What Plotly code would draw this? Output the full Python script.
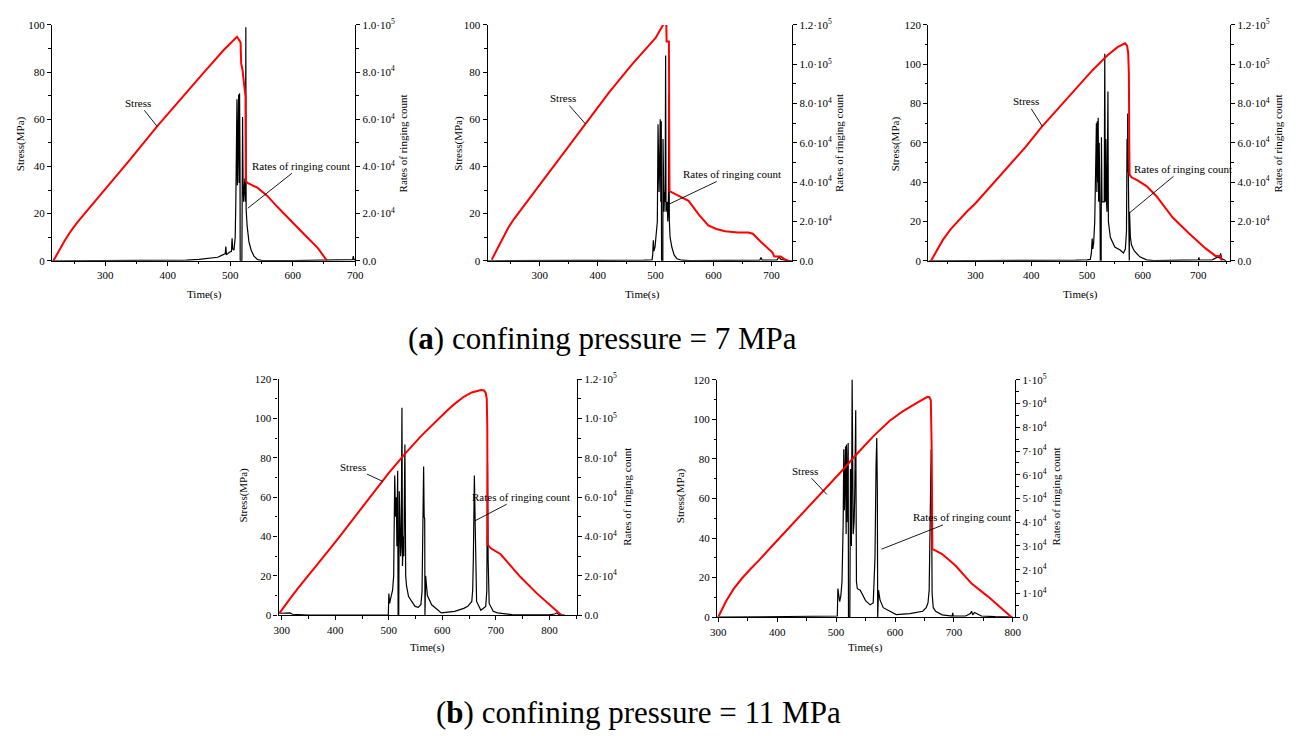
import plotly.graph_objects as go

W, H = 1301, 736
FONT = "Liberation Serif"

# ---------------- data ----------------
# (a) panel 1
a1_stress_t = [217, 225, 235, 245, 255, 270, 285, 300, 340, 383, 420, 460, 490, 500, 506, 510.8, 515, 516.6, 517.6, 519.7,
               522.9, 524.5, 525, 527.7, 543.5, 559.4, 575, 600, 617.5, 640, 655]
a1_stress_v = [0, 4, 8.5, 12.6, 16.2, 21, 25.7, 30.2, 43, 57, 68.5, 80.5, 89.5, 92.3, 94, 95, 93.3, 92.6, 83.6, 80.9,
               73.2, 69.8, 33.7, 33, 31, 27.5, 23, 16, 11.5, 5.5, 0]
a1_ring_t = [215, 300, 400, 430, 450, 470, 480, 488, 492, 493, 494, 498, 502, 503, 504, 506, 507, 508, 509, 510,
             510.8, 511.5, 512.5, 513.5, 514.2, 515, 515.7, 516, 518.7, 519, 519.8, 520.5, 521.5, 522.5, 523.5, 524.5, 525, 525.5, 527, 530,
             533.6, 538, 544, 550, 600, 690, 696, 697, 698, 700]
a1_ring_v = [0, 0, 100, 300, 600, 1000, 1500, 2500, 3000, 6000, 2500, 3500, 4000, 9500, 5000, 4500, 7000, 10000, 25000, 40000,
             68500, 32000, 55000, 70500, 33000, 71000, 40000, 0, 0, 50000, 61000, 35000, 25000, 30000, 35000, 25000, 99000, 22000, 15000, 8000,
             4500, 2000, 500, 200, 100, 200, 500, 2000, 600, 300]

# (a) panel 2
a2_stress_t = [217, 225, 235, 245, 255, 270, 285, 300, 340, 379, 420, 460, 500, 514, 518.5, 519, 523, 524, 528.7, 540,
               557, 575, 591, 605, 620, 642, 660, 668, 682, 702, 705, 711, 716, 722, 730]
a2_stress_v = [0.5, 4.5, 9.5, 13.8, 17.6, 22.6, 27.6, 32.3, 45.3, 58, 71.5, 83.5, 94.5, 100.5, 100.5, 93, 93, 29.5, 29, 27.5,
               25.4, 19.5, 15, 13.5, 12.5, 12, 12, 11.5, 8, 3.5, 1.8, 1.8, 1.8, 0.8, 0]
a2_ring_t = [210, 300, 400, 480, 494, 495, 496, 497, 499, 501, 503, 504.2, 505, 506, 507, 508, 509, 509.8, 510.3, 512.5,
             512.8, 513.5, 514.5, 515.5, 516.5, 517.3, 518, 520, 521, 522, 523, 523.8, 525, 528, 532, 537, 545, 560, 650, 680,
             682, 684, 710, 713, 716, 720, 725, 736]
a2_ring_v = [0, 0, 200, 300, 500, 3000, 10500, 5000, 7000, 12000, 20000, 69500, 40000, 35000, 50000, 72000, 30000, 71000, 0, 0,
             62000, 40000, 25000, 35000, 30000, 104500, 25000, 30000, 20000, 25000, 85000, 20000, 12000, 7000, 3000, 1000, 300, 100, 100, 300,
             1700, 300, 500, 2000, 800, 400, 200, 0]

# (a) panel 3
a3_stress_t = [220, 230, 241, 255, 270, 285, 300, 330, 359, 390, 418, 450, 477, 510, 536, 555, 568.4, 572, 574, 575.3,
               576, 576.5, 580, 590, 607, 624.5, 654, 683, 713, 730.7, 739.5, 742]
a3_stress_v = [0, 5, 10.5, 16, 20.8, 25.2, 29.3, 38.8, 48, 58, 67.9, 78, 86.7, 97, 104.3, 108.7, 110.7, 109.5, 106, 95,
               60, 44, 42.5, 41, 38, 33, 22, 14, 6.3, 2.5, 2.5, 0]
a3_ring_t = [216, 300, 400, 480, 500, 506, 508, 509.4, 510.5, 512, 514, 515.5, 517, 517.8, 518.5, 519.5, 520.2, 521, 522, 523.5,
             524, 525.5, 526, 526.5, 527, 531, 532, 533, 534, 535, 536, 537.7, 538.5, 542, 550, 559.6, 565.5, 569, 571, 572,
             572.6, 573.2, 574, 575, 576, 576.5, 578, 580, 585, 595, 607, 620, 690, 700, 701, 702, 725, 735, 738, 740,
             742, 745, 750]
a3_ring_v = [0, 0, 100, 300, 500, 700, 4000, 11300, 6000, 9000, 20000, 50000, 70000, 35000, 71000, 40000, 72800, 30000, 60000, 25000,
             0, 0, 62900, 40000, 30000, 30000, 105400, 30000, 62000, 30000, 25000, 86200, 20000, 12000, 7000, 5500, 4000, 6000, 15000, 62000,
             45000, 75000, 35000, 20000, 0, 25000, 12000, 8000, 5000, 2000, 500, 100, 200, 500, 1700, 400, 500, 2000, 1500, 3800,
             1000, 500, 0]

# (b) panel 4
b1_stress_t = [296, 305, 315.4, 330, 346, 377, 408, 438, 470, 500, 530, 561, 592, 610, 623, 640, 655, 665, 672, 678,
               681, 683, 684, 684.4, 690.5, 709, 727, 746, 776.6, 807, 822.7]
b1_stress_v = [1.2, 4.8, 8.4, 13.6, 18.8, 29.4, 40, 50.8, 61.8, 72.3, 82, 91.3, 99.8, 104.3, 107.4, 111, 113.2, 114.2, 114.5, 114.2,
               113, 110, 95, 36, 34, 31, 25.3, 19.4, 11.1, 3.7, 0]
b1_ring_t = [294, 300, 315, 320, 330, 350, 400, 499, 500, 501.5, 503, 505, 507, 509, 510, 511, 512.5, 514, 515, 516.5,
             517.3, 518.5, 519.5, 520.5, 522, 523, 524.5, 525.5, 527, 528, 530, 531.5, 533, 536.8, 545, 549, 555, 560, 562, 563,
             565, 566, 567, 567.5, 568.8, 572, 580, 598, 623, 640, 647.5, 655, 656.7, 658, 659.8, 661.6, 664, 672, 681, 683,
             684.4, 685.6, 687.5, 695, 703, 730, 760, 800, 810, 813.5, 818, 830]
b1_ring_v = [1200, 1000, 1200, 500, 300, 0, 0, 0, 11000, 6000, 8000, 10000, 12800, 20000, 45000, 71000, 50000, 60000, 35000, 73400,
             0, 0, 63000, 45000, 30000, 35000, 105500, 25000, 40000, 30000, 86800, 20000, 15000, 9500, 6000, 4500, 4000, 5500, 12000, 29000,
             75600, 50000, 49000, 0, 20000, 10000, 5300, 1200, 2000, 3500, 4500, 7000, 12800, 30000, 71000, 42700, 7000, 2500, 4500, 12000,
             77600, 28000, 6000, 2000, 1200, 300, 100, 200, 600, 1200, 300, 0]

# (b) panel 5
b2_stress_t = [300.5, 306, 312.8, 326, 340.6, 355, 368.5, 396, 424, 452, 480, 508, 535.5, 563, 591, 613, 635, 645, 650, 655,
               658.5, 660.8, 662.3, 663.4, 669, 680, 702.6, 730, 758, 786, 798]
b2_stress_v = [0.5, 4.2, 7.9, 14.3, 19.8, 24.5, 28.6, 37.5, 46.5, 55.4, 64.2, 73.4, 82.6, 91.4, 99.3, 104, 108, 109.8, 110.7, 111.4,
               111.2, 109.6, 84.8, 34.4, 33.6, 31.9, 26.1, 17, 10.4, 3, 0]
b2_ring_t = [298, 400, 500, 502, 503, 504.5, 506, 508, 510, 512, 513, 514, 515, 516, 517, 517.7, 518.5, 519.5, 520.5, 521,
             523.3, 524.4, 525.2, 526, 527.2, 527.8, 529, 530.5, 531.5, 533.3, 534.5, 536, 541, 550, 557.8, 563, 566, 567.8,
             569, 570, 570.6, 572, 574.5, 580, 591, 602, 625, 647, 653, 656, 658, 659.5, 660.5, 661.4, 662.3, 663, 665, 669,
             680, 697, 698, 699, 720, 728, 730, 732, 735, 746.7, 770, 800]
b2_ring_v = [0, 200, 300, 500, 12100, 8000, 6600, 9000, 15000, 40000, 70700, 45000, 55000, 72000, 35000, 72700, 40000, 60000, 73400, 0,
             0, 62400, 40000, 30000, 100500, 40000, 35000, 40000, 50000, 87200, 15000, 12000, 11400, 7000, 5200, 6000, 25200, 63800,
             75500, 52800, 0, 11400, 7300, 4000, 2500, 1100, 1500, 2500, 4000, 6000, 11400, 50000, 62000, 70700, 40000, 10000, 4000, 2500,
             1000, 500, 1800, 500, 500, 1500, 2500, 1000, 2000, 500, 200, 0]

# tick labels of the right-hand axes
ring_ticks_1e5 = [0, 20000, 40000, 60000, 80000, 100000]
ring_text_1e5 = ["0.0", "2.0·10<sup>4</sup>", "4.0·10<sup>4</sup>", "6.0·10<sup>4</sup>", "8.0·10<sup>4</sup>", "1.0·10<sup>5</sup>"]
ring_ticks_12e4 = [0, 20000, 40000, 60000, 80000, 100000, 120000]
ring_text_12e4 = ["0.0", "2.0·10<sup>4</sup>", "4.0·10<sup>4</sup>", "6.0·10<sup>4</sup>", "8.0·10<sup>4</sup>",
                  "1.0·10<sup>5</sup>", "1.2·10<sup>5</sup>"]
ring_ticks_b2 = [0, 10000, 20000, 30000, 40000, 50000, 60000, 70000, 80000, 90000, 100000]
ring_text_b2 = ["0", "1·10<sup>4</sup>", "2·10<sup>4</sup>", "3·10<sup>4</sup>", "4·10<sup>4</sup>", "5·10<sup>4</sup>",
                "6·10<sup>4</sup>", "7·10<sup>4</sup>", "8·10<sup>4</sup>", "9·10<sup>4</sup>", "1·10<sup>5</sup>"]

caption_a = "(<b>a</b>) confining pressure = 7 MPa"
caption_b = "(<b>b</b>) confining pressure = 11 MPa"

for t, v in [(a1_stress_t, a1_stress_v), (a1_ring_t, a1_ring_v), (a2_stress_t, a2_stress_v), (a2_ring_t, a2_ring_v),
             (a3_stress_t, a3_stress_v), (a3_ring_t, a3_ring_v), (b1_stress_t, b1_stress_v), (b1_ring_t, b1_ring_v),
             (b2_stress_t, b2_stress_v), (b2_ring_t, b2_ring_v)]:
    assert len(t) == len(v), (len(t), len(v))

# ---------------- layout configuration ----------------
panels = [
    dict(st=(a1_stress_t, a1_stress_v), rg=(a1_ring_t, a1_ring_v), px=(45.7, 352.5), py=(17.3, 257.7),
         xr=[215, 700], sr=[0, 100], rr=[0, 100000], rtv=ring_ticks_1e5, rtt=ring_text_1e5, rminor=10000,
         stress_lbl=(353, 67, 383, 57), ring_lbl=(614, 40.3, 528.2, 22.3),
         ltitle=(14, 138), rtitle=(401, 138), ttitle=(200, 292)),
    dict(st=(a2_stress_t, a2_stress_v), rg=(a2_ring_t, a2_ring_v), px=(486.7, 795), py=(17.3, 257.7),
         xr=[210, 736], sr=[0, 100], rr=[0, 120000], rtv=ring_ticks_12e4, rtt=ring_text_12e4, rminor=10000,
         stress_lbl=(339.8, 69, 379, 58), ring_lbl=(632.8, 36.8, 523, 24),
         ltitle=(457, 138), rtitle=(843, 138), ttitle=(643, 292)),
    dict(st=(a3_stress_t, a3_stress_v), rg=(a3_ring_t, a3_ring_v), px=(932.7, 1238.3), py=(17.3, 257.7),
         xr=[215, 757], sr=[0, 120], rr=[0, 120000], rtv=ring_ticks_12e4, rtt=ring_text_12e4, rminor=10000,
         stress_lbl=(391.4, 81.2, 419.8, 68.5), ring_lbl=(671.7, 46.8, 577.3, 24.6),
         ltitle=(899, 138), rtitle=(1287, 138), ttitle=(1087, 292)),
    dict(st=(b1_stress_t, b1_stress_v), rg=(b1_ring_t, b1_ring_v), px=(275, 577.3), py=(378.3, 619),
         xr=[294, 852], sr=[0, 120], rr=[0, 120000], rtv=ring_ticks_12e4, rtt=ring_text_12e4, rminor=10000,
         stress_lbl=(432.2, 75.1, 488.8, 68), ring_lbl=(747, 60.2, 661, 48),
         ltitle=(239, 497), rtitle=(627, 498), ttitle=(426, 652)),
    dict(st=(b2_stress_t, b2_stress_v), rg=(b2_ring_t, b2_ring_v), px=(719, 1020.7), py=(379, 621),
         xr=[298, 804], sr=[0, 120], rr=[0, 100000], rtv=ring_ticks_b2, rtt=ring_text_b2, rminor=5000,
         stress_lbl=(446.4, 74, 484.3, 62), ring_lbl=(713.7, 50.4, 577.3, 34.4),
         ltitle=(682, 497), rtitle=(1062, 498), ttitle=(869, 652)),
]

fig = go.Figure()
layout = dict(width=W, height=H, autosize=False, margin=dict(l=0, r=0, t=0, b=0),
              paper_bgcolor="white", plot_bgcolor="white", showlegend=False,
              font=dict(family=FONT, size=11, color="black"))
annotations = []
tickfont = dict(family=FONT, size=11, color="black")
axis_common = dict(showgrid=False, zeroline=False, showline=True, linecolor="black", linewidth=1.3,
                   ticks="outside", ticklen=4, tickwidth=1, tickcolor="black", tickfont=tickfont)

for i, p in enumerate(panels, start=1):
    xa = "x" if i == 1 else f"x{i}"
    ring_ax = "y" if i == 1 else f"y{i}"
    st_ax = f"y{i + 5}"
    xkey = "xaxis" if i == 1 else f"xaxis{i}"
    rkey = "yaxis" if i == 1 else f"yaxis{i}"
    skey = f"yaxis{i + 5}"
    x0, x1 = p["px"]
    y0, y1 = p["py"]
    layout[xkey] = dict(axis_common, domain=[x0 / W, x1 / W], range=p["xr"], anchor=ring_ax,
                        dtick=100, tick0=0, minor=dict(dtick=50, ticks="outside", ticklen=2.5, tickcolor="black"))
    layout[rkey] = dict(axis_common, domain=[1 - y1 / H, 1 - y0 / H], range=p["rr"], anchor=xa, side="right",
                        tickmode="array", tickvals=p["rtv"], ticktext=p["rtt"],
                        minor=dict(dtick=p["rminor"], tick0=0, ticks="outside", ticklen=2.5, tickcolor="black"))
    layout[skey] = dict(axis_common, overlaying=ring_ax, anchor=xa, side="left", range=p["sr"],
                        dtick=20, tick0=0, minor=dict(dtick=10, ticks="outside", ticklen=2.5, tickcolor="black"))

    fig.add_trace(go.Scatter(x=p["rg"][0], y=p["rg"][1], mode="lines", line=dict(color="black", width=1.2),
                             xaxis=xa, yaxis=ring_ax, hoverinfo="skip"))
    fig.add_trace(go.Scatter(x=p["st"][0], y=p["st"][1], mode="lines", line=dict(color="#ff0000", width=2),
                             xaxis=xa, yaxis=st_ax, hoverinfo="skip"))

    sx, sy, sax, say = p["stress_lbl"]
    annotations.append(dict(x=sax, y=say, ax=sx, ay=sy, xref=xa, yref=st_ax, axref=xa, ayref=st_ax,
                            text="Stress", showarrow=True, arrowhead=0, arrowwidth=0.9, arrowcolor="black",
                            font=dict(family=FONT, size=11, color="black"), standoff=0))
    rx, ry, rax, ray = p["ring_lbl"]
    annotations.append(dict(x=rax, y=ray, ax=rx, ay=ry, xref=xa, yref=st_ax, axref=xa, ayref=st_ax,
                            text="Rates of ringing count", showarrow=True, arrowhead=0, arrowwidth=0.9,
                            arrowcolor="black", font=dict(family=FONT, size=11, color="black"), standoff=0))
    lx, ly = p["ltitle"]
    annotations.append(dict(x=lx / W, y=1 - ly / H, xref="paper", yref="paper", text="Stress(MPa)", textangle=-90,
                            showarrow=False, xanchor="center", yanchor="middle", font=dict(family=FONT, size=11)))
    rx2, ry2 = p["rtitle"]
    annotations.append(dict(x=rx2 / W, y=1 - ry2 / H, xref="paper", yref="paper", text="Rates of ringing count",
                            textangle=-90, showarrow=False, xanchor="center", yanchor="middle",
                            font=dict(family=FONT, size=11)))
    tx, ty = p["ttitle"]
    annotations.append(dict(x=tx / W, y=1 - ty / H, xref="paper", yref="paper", text="Time(s)",
                            showarrow=False, xanchor="center", yanchor="middle", font=dict(family=FONT, size=11)))

annotations.append(dict(x=603 / W, y=1 - 337 / H, xref="paper", yref="paper", text=caption_a, showarrow=False,
                        xanchor="center", yanchor="middle", font=dict(family=FONT, size=31, color="black")))
annotations.append(dict(x=639 / W, y=1 - 718 / H, xref="paper", yref="paper", text=caption_b, showarrow=False,
                        xanchor="center", yanchor="middle", font=dict(family=FONT, size=31, color="black")))

layout["annotations"] = annotations
fig.update_layout(**layout)
fig.write_html("out.html")
